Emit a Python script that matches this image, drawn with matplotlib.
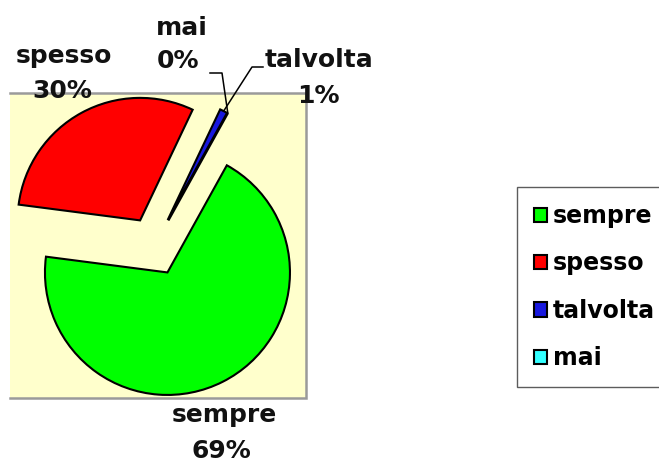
import numpy as np
import matplotlib
matplotlib.use("Agg")
import matplotlib.pyplot as plt
from matplotlib.patches import Rectangle

# Dati
categorie = ["sempre", "spesso", "talvolta", "mai"]
valori = [69, 30, 1, 0]
colori = ["#00FF00", "#FF0000", "#1818DD", "#33FFFF"]

W, H = 659, 462
fig = plt.figure(figsize=(W / 100, H / 100), dpi=100)
ax = fig.add_axes([0, 0, 1, 1])

# sfondo giallo dell'area del grafico (bordo grigio solo sopra, destra, sotto)
x0, x1, y0, y1 = 10, 306, H - 398, H - 93
ax.add_patch(Rectangle((x0, y0), x1 - x0, y1 - y0, facecolor="#FFFFCC",
                       edgecolor="none", zorder=0))
ax.plot([x0, x1, x1, x0], [y1, y1, y0, y0], color="#9A9A9A", lw=1.8,
        zorder=0.5, solid_joinstyle="miter")

wedges, _ = ax.pie(valori, colors=colori, startangle=61, counterclock=False,
                   explode=[29.4] * len(valori), radius=122.5,
                   center=(154.2, H - 246.2),
                   wedgeprops=dict(edgecolor="black", linewidth=1.5))
ax.set_xlim(0, W)
ax.set_ylim(0, H)
ax.set_aspect("equal")
ax.axis("off")

# etichette (nome + percentuale)
font = dict(family="DejaVu Sans", fontweight="bold", fontsize=18,
            color="#111111", ha="center", va="baseline")
pos = {
    "spesso": ((64, 63), (62, 98)),
    "mai": ((182, 35), (178, 68)),
    "talvolta": ((319, 67), (318, 103)),
    "sempre": ((224, 422), (221, 458)),
}
for nome, v in zip(categorie, valori):
    (xn, yn), (xp, yp) = pos[nome]
    ax.text(xn, H - yn, nome, **font)
    ax.text(xp, H - yp, f"{v}%", **font)

# linee di richiamo verso le fette piccole
def punta(w):
    t = np.deg2rad((w.theta1 + w.theta2) / 2)
    return w.center[0] + w.r * np.cos(t), w.center[1] + w.r * np.sin(t)

px, py = punta(wedges[2])
ax.plot([263, 252, px], [H - 67, H - 67, py], color="black", lw=1.1)
px, py = punta(wedges[3])
ax.plot([210, 222, px], [H - 73, H - 73, py], color="black", lw=1.1)

leg = fig.legend(wedges, categorie, loc="upper left",
                 bbox_to_anchor=(517 / W, 1 - 187 / H), borderaxespad=0,
                 prop=dict(family="DejaVu Sans", weight="bold", size=17),
                 frameon=True, fancybox=False, edgecolor="#333333",
                 handlelength=0.55, handleheight=0.55, handletextpad=0.25,
                 labelspacing=0.99, borderpad=0.72)
leg.get_frame().set_linewidth(1.0)

fig.savefig("out.png", dpi=100)
